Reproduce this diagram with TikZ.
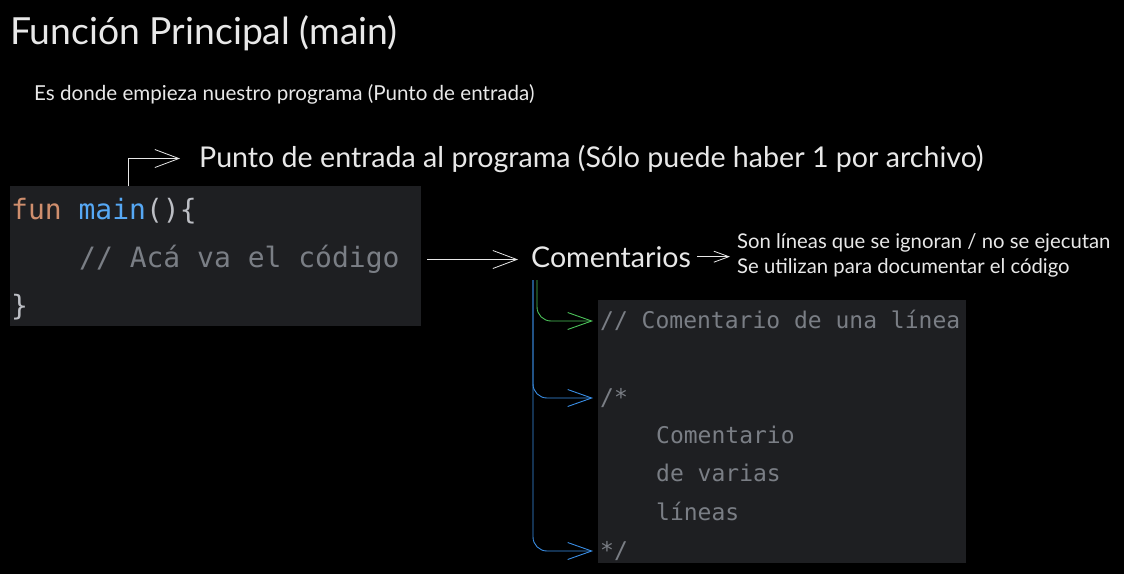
\documentclass[tikz,border=0pt]{standalone}
\usepackage{fontspec}
\setmainfont{Lato}
\setmonofont{DejaVu Sans Mono}
\usetikzlibrary{arrows.meta,positioning}
\definecolor{fondo}{HTML}{000000}
\definecolor{caja}{HTML}{1E1F22}
\definecolor{texto}{HTML}{E8E8E8}
\definecolor{naranja}{HTML}{CF8E6D}
\definecolor{azulfn}{HTML}{56A8F5}
\definecolor{llaves}{HTML}{BCBEC4}
\definecolor{gris}{HTML}{7A7E85}
\definecolor{verde}{HTML}{4CC35A}
\definecolor{azul}{HTML}{3A8EE6}
\tikzset{
  etiqueta/.style={inner sep=0pt,anchor=base west,text=texto},
  lineacod/.style={inner sep=0pt,anchor=base west,font=\ttfamily\fontsize{28}{34}\selectfont,text height=20pt,text depth=5pt},
  lineacom/.style={inner sep=0pt,anchor=base west,text=gris,font=\ttfamily\fontsize{23}{28}\selectfont,text height=17pt,text depth=3pt},
  flecha/.style={draw=texto,line width=0.8pt,-{Straight Barb[length=24pt,width=18pt,line width=0.8pt]}},
  flechita/.style={draw=texto,line width=0.8pt,-{Straight Barb[length=15pt,width=11pt,line width=0.8pt]}},
  rama/.style={line width=0.9pt,rounded corners=14pt,-{Straight Barb[length=24pt,width=17pt,line width=0.9pt]}}
}
\begin{document}
\begin{tikzpicture}[x=1pt,y=-1pt]
	\fill[fondo] (0,0) rectangle (1124,574);
	\useasboundingbox (0,0) rectangle (1124,574);
	\node[etiqueta,font=\fontsize{37.3}{40}\selectfont] (titulo) at (10,44) {Función Principal (main)};
	\node[etiqueta,font=\fontsize{20.6}{22}\selectfont] (sub) at (34,100) {Es donde empieza nuestro programa (Punto de entrada)};
	\node[etiqueta,font=\fontsize{28.6}{30}\selectfont] (punto) at (199,167) {Punto de entrada al programa (Sólo puede haber 1 por archivo)};
	\node[fill=caja,inner sep=0pt,minimum width=411pt,minimum height=140pt,anchor=north west] (caja1) at (10,186) {};
	\node[lineacod] (l1) at (11,219) {\textcolor{naranja}{fun} \textcolor{azulfn}{main}\textcolor{llaves}{()\{}};
	\node[lineacod,text=gris] (l2) at (79,267) {// Acá va el código};
	\node[lineacod,text=llaves] (l3) at (11,315) {\}};
	\node[etiqueta,font=\fontsize{28.6}{32}\selectfont] (coment) at (531,267) {Comentarios};
	\node[inner sep=0pt,anchor=west,align=left,text=texto,font=\fontsize{20.3}{25}\selectfont] (notas) at (737,255) {Son líneas que se ignoran / no se ejecutan\\Se utilizan para documentar el código};
	\node[fill=caja,inner sep=0pt,minimum width=368pt,minimum height=263pt,anchor=north west] (caja2) at (598,300) {};
	\node[lineacom] (c1) at (600,328) {// Comentario de una línea};
	\node[lineacom] (c2) at (600,405) {/*};
	\node[lineacom] (c3) at (656,443) {Comentario};
	\node[lineacom] (c4) at (656,481) {de varias};
	\node[lineacom] (c5) at (656,520) {líneas};
	\node[lineacom] (c6) at (600,558) {*/};
	\coordinate (ramaV) at (537,280);
	\coordinate (ramaA) at (533,280);
	\draw[flecha] ([xshift=118pt]caja1.north west) |- ([xshift=-19pt]punto.west);
	\draw[flecha] ([xshift=6pt]caja1.east |- l2.west) -- ([xshift=-13pt]coment.west |- l2.west);
	\draw[flechita] ([xshift=6pt]coment.east) -- ([xshift=-7pt]coment.east -| notas.west);
	\draw[rama,verde] (ramaV) |- ([xshift=-7pt]c1.west);
	\draw[rama,azul] (ramaA) |- ([xshift=-7pt]c2.west);
	\draw[rama,azul] (ramaA) |- ([xshift=-7pt]c6.west);
\end{tikzpicture}
\end{document}
